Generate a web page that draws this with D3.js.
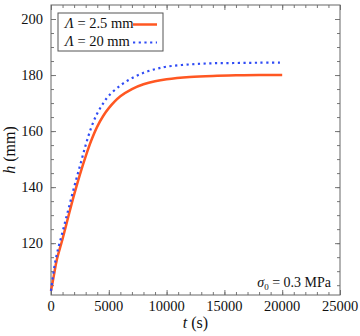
<!DOCTYPE html>
<html>
<head>
<meta charset="utf-8">
<script src="https://cdn.jsdelivr.net/npm/d3@7"></script>
<style>
  body { margin: 0; background: #fff; }
</style>
</head>
<body>
<svg class="chart"></svg>
<script>
// Time points (s)
var times = [0, 250, 500, 1000, 1500, 2000, 2500, 3000, 3500, 4000, 4500, 5000,
             6000, 7000, 8000, 9000, 10000, 12000, 14000, 16000, 18000, 20000];

// h (mm) for Lambda = 2.5 mm
var hSmall = [103, 108.5, 114, 121.5, 129.5, 137.3, 144.5, 151, 156.8, 161.6, 165.3, 168.2,
              172.4, 175, 176.7, 177.8, 178.5, 179.3, 179.7, 179.9, 180, 180];

// h (mm) for Lambda = 20 mm
var hLarge = [103, 110.5, 116, 124, 132, 140, 147.5, 155, 161.5, 166.3, 169.8, 172.6,
              176.3, 178.9, 180.8, 182.1, 183, 183.8, 184.2, 184.3, 184.4, 184.4];

var seriesNames = ["2.5", "20"];
var xTicks = [0, 5000, 10000, 15000, 20000, 25000];
var yTicks = [120, 140, 160, 180, 200];

var width = 360, height = 336;
var margin = { left: 51, right: 20, top: 5, bottom: 41 };
var plotW = width - margin.left - margin.right;
var plotH = height - margin.top - margin.bottom;
var serif = '"Liberation Serif", "Times New Roman", serif';

var svg = d3.select(".chart")
    .attr("width", width).attr("height", height)
    .attr("font-family", serif)
    .style("font-family", serif);

var xScale = d3.scaleLinear().domain([0, 25000]).range([0, plotW]);
var yScale = d3.scaleLinear().domain([101.5, 205]).range([plotH, 0]);

var chart = svg.append("g")
    .attr("transform", "translate(" + margin.left + "," + margin.top + ")");

// Inward ticks on all four sides
function tickAxis(axis, major, minor, transform) {
    var g = chart.append("g").attr("transform", transform);
    g.call(axis.tickValues(minor).tickSize(-3).tickFormat(""));
    g.append("g").call(axis.tickValues(major).tickSize(-5).tickFormat(""));
    g.selectAll(".domain").remove();
    g.selectAll("line").attr("stroke", "#777");
    return g;
}

var xMinor = d3.range(0, 25001, 1000);
var yMinor = d3.range(105, 205, 5);

tickAxis(d3.axisBottom(xScale), xTicks, xMinor, "translate(0," + plotH + ")");
tickAxis(d3.axisTop(xScale), xTicks, xMinor, "translate(0,0)");
tickAxis(d3.axisLeft(yScale), yTicks, yMinor, "translate(0,0)");
tickAxis(d3.axisRight(yScale), yTicks, yMinor, "translate(" + plotW + ",0)");

// Frame
chart.append("rect")
    .attr("width", plotW).attr("height", plotH)
    .attr("fill", "none").attr("stroke", "#666").attr("stroke-width", 1);

// Tick labels
chart.selectAll("text.xlab").data(xTicks).enter().append("text")
    .attr("x", function(d) { return xScale(d); })
    .attr("y", plotH + 16)
    .attr("text-anchor", "middle")
    .attr("fill", "#111")
    .style("font-size", "14.5px")
    .text(function(d) { return d; });

chart.selectAll("text.ylab").data(yTicks).enter().append("text")
    .attr("x", -8)
    .attr("y", function(d) { return yScale(d) + 5; })
    .attr("text-anchor", "end")
    .attr("fill", "#111")
    .style("font-size", "14.5px")
    .text(function(d) { return d; });

// Curves
var line = d3.line()
    .x(function(d) { return xScale(d[0]); })
    .y(function(d) { return yScale(d[1]); })
    .curve(d3.curveCatmullRom.alpha(0.5));

chart.append("path")
    .datum(d3.zip(times, hSmall))
    .attr("d", line)
    .attr("fill", "none")
    .attr("stroke", "#ff5722")
    .attr("stroke-width", 2.5);

chart.append("path")
    .datum(d3.zip(times, hLarge))
    .attr("d", line)
    .attr("fill", "none")
    .attr("stroke", "#2f4bf5")
    .attr("stroke-width", 2.2)
    .attr("stroke-dasharray", "2.2,3.5");

// Axis titles
svg.append("text")
    .attr("x", margin.left + plotW / 2)
    .attr("y", 328)
    .attr("text-anchor", "middle")
    .attr("fill", "#111")
    .style("font-size", "16px")
    .html('<tspan font-style="italic">t</tspan> (s)');

svg.append("text")
    .attr("transform", "translate(15," + (margin.top + plotH / 2) + ") rotate(-90)")
    .attr("text-anchor", "middle")
    .attr("fill", "#111")
    .style("font-size", "16px")
    .html('<tspan font-style="italic">h</tspan> (mm)');

// Annotation
svg.append("text")
    .attr("x", 331)
    .attr("y", 287)
    .attr("text-anchor", "end")
    .attr("fill", "#111")
    .style("font-size", "14px")
    .html('<tspan font-style="italic">σ</tspan><tspan dy="3" font-size="9px">0</tspan><tspan dy="-3"> = 0.3 MPa</tspan>');

// Legend
var legend = svg.append("g").attr("transform", "translate(58,13)");
legend.append("rect")
    .attr("width", 105).attr("height", 38)
    .attr("fill", "#fff").attr("stroke", "#555").attr("stroke-width", 1);

var legendStyles = [
    { color: "#ff5722", width: 2.5, dash: null },
    { color: "#2f4bf5", width: 2.2, dash: "2.2,3.5" }
];

seriesNames.forEach(function(name, i) {
    var yPos = 11.5 + i * 18;
    legend.append("text")
        .attr("x", 7)
        .attr("y", yPos + 3.5)
        .attr("fill", "#111")
        .style("font-size", "14.5px")
        .html('<tspan font-style="italic">Λ</tspan> = ' + name + ' mm');
    legend.append("line")
        .attr("x1", 75).attr("x2", 99)
        .attr("y1", yPos).attr("y2", yPos)
        .attr("stroke", legendStyles[i].color)
        .attr("stroke-width", legendStyles[i].width)
        .attr("stroke-dasharray", legendStyles[i].dash);
});
</script>
</body>
</html>
